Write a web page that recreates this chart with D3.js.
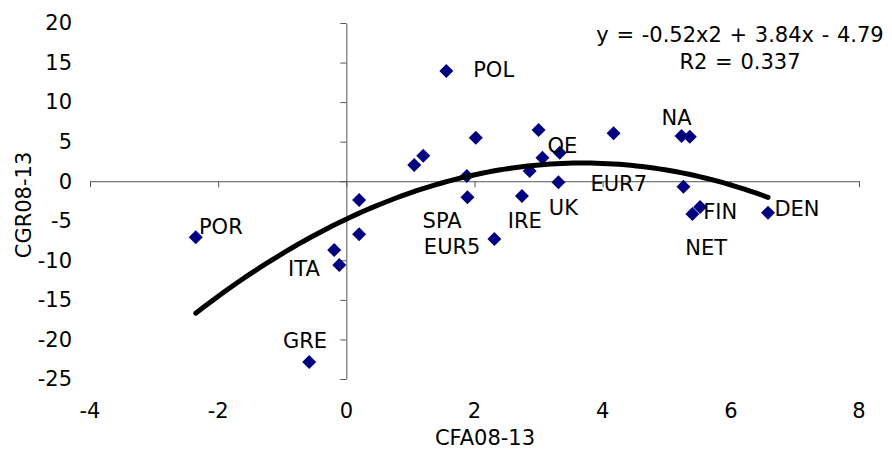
<!DOCTYPE html>
<html>
<head>
<meta charset="utf-8">
<script src="https://cdn.jsdelivr.net/npm/d3@7"></script>
<style>
	body { margin: 0; background: #fff; }
	svg { display: block; font-family: "DejaVu Sans", Verdana, sans-serif; }
</style>
</head>
<body>
<div id="chart"></div>
<script>
// CFA08-13 (x) vs CGR08-13 (y)
const cfa = [-2.35, -0.58, -0.19, -0.11, 0.20, 0.20, 1.06, 1.20, 2.02, 1.88, 1.89, 2.31, 2.74, 2.86, 3.00, 3.06, 3.33, 3.31, 4.17, 1.56, 5.23, 5.36, 5.26, 5.40, 5.52, 6.58]
const cgr = [-7.07, -22.86, -8.70, -10.60, -2.38, -6.71, 2.05, 3.22, 5.50, 0.66, -2.04, -7.31, -1.87, 1.29, 6.47, 2.97, 3.60, -0.14, 6.05, 13.93, 5.71, 5.63, -0.69, -4.15, -3.27, -3.98]

// data labels, placed in data units (left edge, vertical middle)
const label_names = ['POL', 'POR', 'ITA', 'GRE', 'SPA', 'EUR5', 'IRE', 'UK', 'OE', 'EUR7', 'NA', 'FIN', 'DEN', 'NET']
const label_x = [1.98, -2.30, -0.91, -0.99, 1.19, 1.21, 2.52, 3.16, 3.14, 3.81, 4.92, 5.57, 6.68, 5.29]
const label_y = [14.06, -5.79, -11.10, -20.16, -5.00, -8.32, -5.00, -3.30, 4.45, -0.35, 8.08, -3.86, -3.51, -8.41]

// polynomial trend (order 2)
const fit = [-0.52, 3.84, -4.79]
const fit_text = ['y = -0.52x2 + 3.84x - 4.79', 'R2 = 0.337']

const x_ticks = [-4, -2, 0, 2, 4, 6, 8]
const y_ticks = [20, 15, 10, 5, 0, -5, -10, -15, -20, -25]

const W = 892, H = 453
const fs = 21
const svg = d3.select('#chart').append('svg')
	.attr('width', W)
	.attr('height', H)

const x = d3.scaleLinear().domain([-4, 8]).range([90, 859])
const y = d3.scaleLinear().domain([-25, 20]).range([379, 23])

// axes cross at zero, labels sit at the low edge
const xAxis = svg.append('g')
	.attr('transform', 'translate(0,' + y(0) + ')')
	.call(d3.axisBottom(x).tickValues(x_ticks).tickSize(6).tickSizeOuter(0).tickFormat(''))
xAxis.selectAll('line, path').attr('stroke', '#555')

const yAxis = svg.append('g')
	.attr('transform', 'translate(' + x(0) + ',0)')
	.call(d3.axisLeft(y).tickValues(y_ticks).tickSize(6).tickSizeOuter(0).tickFormat(''))
yAxis.selectAll('line, path').attr('stroke', '#555')

svg.append('g').selectAll('text')
	.data(x_ticks)
	.enter().append('text')
	.attr('x', d => x(d))
	.attr('y', 411)
	.attr('dy', '.35em')
	.attr('text-anchor', 'middle')
	.attr('font-size', fs)
	.text(d => d)

svg.append('g').selectAll('text')
	.data(y_ticks)
	.enter().append('text')
	.attr('x', 72)
	.attr('y', d => y(d))
	.attr('dy', '.35em')
	.attr('text-anchor', 'end')
	.attr('font-size', fs)
	.text(d => d)

svg.append('text')
	.attr('x', 485)
	.attr('y', 438)
	.attr('dy', '.35em')
	.attr('text-anchor', 'middle')
	.attr('font-size', fs)
	.text('CFA08-13')

svg.append('text')
	.attr('transform', 'translate(24,205)rotate(-90)')
	.attr('dy', '.35em')
	.attr('text-anchor', 'middle')
	.attr('font-size', fs)
	.text('CGR08-13')

// trend line over the data range
const [xmin, xmax] = d3.extent(cfa)
const curve = d3.range(0, 101).map(i => {
	const t = xmin + (xmax - xmin) * i / 100
	return [t, fit[0] * t * t + fit[1] * t + fit[2]]
})

const points = cfa.map((v, i) => ({ x: v, y: cgr[i] }))
svg.append('g').selectAll('path')
	.data(points)
	.enter().append('path')
	.attr('transform', d => 'translate(' + x(d.x) + ',' + y(d.y) + ')rotate(45)')
	.attr('d', d3.symbol(d3.symbolSquare, 98))
	.attr('fill', '#000080')

svg.append('path')
	.datum(curve)
	.attr('d', d3.line().x(d => x(d[0])).y(d => y(d[1])))
	.attr('fill', 'none')
	.attr('stroke', '#000')
	.attr('stroke-width', 5)
	.attr('stroke-linecap', 'round')

svg.append('g').selectAll('text')
	.data(label_names)
	.enter().append('text')
	.attr('x', (d, i) => x(label_x[i]))
	.attr('y', (d, i) => y(label_y[i]))
	.attr('dy', '.35em')
	.attr('font-size', fs)
	.text(d => d)

svg.append('g').selectAll('text')
	.data(fit_text)
	.enter().append('text')
	.attr('x', 740)
	.attr('y', (d, i) => 35 + i * 27)
	.attr('dy', '.35em')
	.attr('text-anchor', 'middle')
	.attr('font-size', fs)
	.attr('word-spacing', 1)
	.text(d => d)
</script>
</body>
</html>
